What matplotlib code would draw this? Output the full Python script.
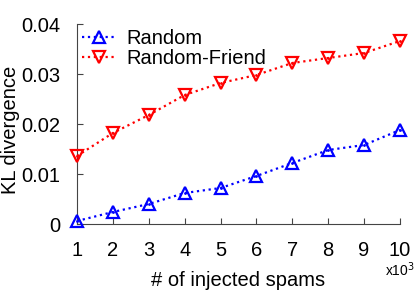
import matplotlib
matplotlib.use("Agg")
import matplotlib.pyplot as plt

plt.rcParams['font.family'] = ['Liberation Sans', 'DejaVu Sans']

spams = [1, 2, 3, 4, 5, 6, 7, 8, 9, 10]
kl_random = [0.0006, 0.0024, 0.0040, 0.0062, 0.0072, 0.0096, 0.0122, 0.0148, 0.0158, 0.0188]
kl_friend = [0.0136, 0.0182, 0.0218, 0.0258, 0.0282, 0.0298, 0.0322, 0.0332, 0.0342, 0.0366]

fig = plt.figure(figsize=(4.15, 2.91), dpi=100)
ax = fig.add_axes([77/415, (291-224)/291, 323/415, 200/291])

for y, col, mk, lab in [(kl_random, 'blue', '^', 'Random'),
                        (kl_friend, 'red', 'v', 'Random-Friend')]:
    ax.plot(spams, y, linestyle=':', color=col, lw=1.6,
            marker=mk, markersize=9, markerfacecolor='none',
            markeredgewidth=1.6, label=lab, clip_on=False, zorder=3)
    # small dot inside each marker, as in the original
    ax.plot(spams, y, linestyle='none', color=col, marker='.', markersize=2,
            clip_on=False, zorder=3)

ax.set_xlim(1, 10)
ax.set_ylim(0, 0.04)
ax.set_xticks(spams)
ax.set_yticks([0, 0.01, 0.02, 0.03, 0.04])
ax.set_yticklabels(['0', '0.01', '0.02', '0.03', '0.04'])

ax.spines['top'].set_visible(False)
ax.spines['right'].set_visible(False)
for s in ['left', 'bottom']:
    ax.spines[s].set_color('#444444')
ax.tick_params(axis='both', direction='in', length=4, color='#444444',
               labelsize=14.5)
ax.tick_params(axis='y', pad=12)
ax.tick_params(axis='x', pad=12)

ax.set_xlabel('# of injected spams', fontsize=14.5, labelpad=8)
ax.set_ylabel('KL divergence', fontsize=14.5)
ax.yaxis.set_label_coords(-0.175, 0.47)
ax.text(1.0, -0.18, 'x10$^3$', transform=ax.transAxes, fontsize=10,
        ha='center', va='top')

ax.legend(loc='upper left', frameon=False, fontsize=14.5, handlelength=1.7,
          borderaxespad=0.0, handletextpad=0.5, labelspacing=0.05,
          bbox_to_anchor=(-0.01, 1.015))

fig.savefig('out.png', dpi=100)
